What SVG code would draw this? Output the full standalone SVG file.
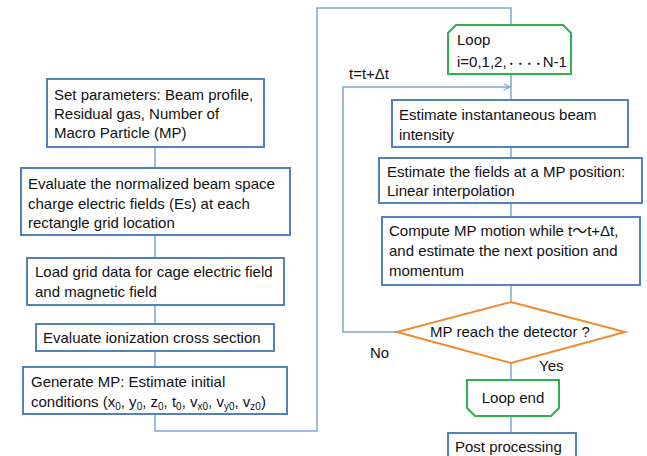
<svg xmlns="http://www.w3.org/2000/svg" width="647" height="456" viewBox="0 0 647 456">
<defs>
<style>
.box{fill:#fff;stroke:#4F81BD;stroke-width:2}
.grn{fill:#fff;stroke:#2DB24F;stroke-width:2}
.dia{fill:#fff;stroke:#F28A2E;stroke-width:2}
.ln{fill:none;stroke:#7EA6D8;stroke-width:1.5}
text{font-family:"Liberation Sans",Arial,sans-serif;font-size:15px;fill:#111}
.sub{font-size:10px}
.cjk{font-family:"Noto Sans CJK JP","Liberation Sans",sans-serif}
</style>
<marker id="arr" viewBox="0 0 10 10" refX="9" refY="5" markerWidth="8" markerHeight="8" markerUnits="userSpaceOnUse" orient="auto">
<path d="M1,1 L9,5 L1,9" fill="none" stroke="#7EA6D8" stroke-width="1.5"/>
</marker>
</defs>
<rect width="647" height="456" fill="#fff"/>
<g id="connectors">
<line class="ln" x1="155" y1="147" x2="155" y2="168"/>
<line class="ln" x1="155" y1="235" x2="155" y2="258"/>
<line class="ln" x1="155" y1="305" x2="155" y2="324"/>
<line class="ln" x1="155" y1="351" x2="155" y2="367"/>
<polyline class="ln" points="155,414 155,431 317,431 317,8 511,8 511,25"/>
<line class="ln" x1="511" y1="74" x2="511" y2="100"/>
<polyline class="ln" points="397,332 343,332 343,87 510,87" marker-end="url(#arr)"/>
<line class="ln" x1="511" y1="147" x2="511" y2="158"/>
<line class="ln" x1="511" y1="203" x2="511" y2="217"/>
<line class="ln" x1="511" y1="285" x2="511" y2="302"/>
<line class="ln" x1="511" y1="363" x2="511" y2="380"/>
<line class="ln" x1="511" y1="416" x2="511" y2="433"/>
</g>
<g id="n1">
<rect class="box" x="47" y="79" width="217" height="68"/>
<text x="54" y="100">Set parameters: Beam profile,</text>
<text x="54" y="119">Residual gas, Number of</text>
<text x="54" y="138">Macro Particle (MP)</text>
</g>
<g id="n2">
<rect class="box" x="21" y="168" width="269" height="67"/>
<text x="28" y="189">Evaluate the normalized beam space</text>
<text x="28" y="209">charge electric fields (Es) at each</text>
<text x="28" y="228">rectangle grid location</text>
</g>
<g id="n3">
<rect class="box" x="27" y="258" width="257" height="47"/>
<text x="35" y="277">Load grid data for cage electric field</text>
<text x="35" y="297">and magnetic field</text>
</g>
<g id="n4">
<rect class="box" x="36" y="324" width="238" height="27"/>
<text x="43" y="343">Evaluate ionization cross section</text>
</g>
<g id="n5">
<rect class="box" x="23" y="367" width="264" height="47"/>
<text x="31" y="387">Generate MP: Estimate initial</text>
<text x="31" y="407">conditions (x<tspan class="sub" dy="3">0</tspan><tspan dy="-3">, y</tspan><tspan class="sub" dy="3">0</tspan><tspan dy="-3">, z</tspan><tspan class="sub" dy="3">0</tspan><tspan dy="-3">, t</tspan><tspan class="sub" dy="3">0</tspan><tspan dy="-3">, v</tspan><tspan class="sub" dy="3">x0</tspan><tspan dy="-3">, v</tspan><tspan class="sub" dy="3">y0</tspan><tspan dy="-3">, v</tspan><tspan class="sub" dy="3">z0</tspan><tspan dy="-3">)</tspan></text>
</g>
<g id="loop">
<path class="grn" d="M456,25 L563,25 L571,33 L571,74 L448,74 L448,33 Z"/>
<text x="457" y="45">Loop</text>
<text x="457" y="67">i=0,1,2,<tspan class="cjk" font-size="9" font-weight="bold">・・・・</tspan>N-1</text>
</g>
<text x="349" y="79">t=t+Δt</text>
<g id="n6">
<rect class="box" x="392" y="100" width="236" height="47"/>
<text x="399" y="120">Estimate instantaneous beam</text>
<text x="399" y="140">intensity</text>
</g>
<g id="n7">
<rect class="box" x="379" y="158" width="263" height="45"/>
<text x="387" y="177">Estimate the fields at a MP position:</text>
<text x="387" y="196">Linear interpolation</text>
</g>
<g id="n8">
<rect class="box" x="382" y="217" width="258" height="68"/>
<text x="389" y="236">Compute MP motion while t<tspan class="cjk">～</tspan>t+Δt,</text>
<text x="389" y="256">and estimate the next position and</text>
<text x="389" y="276">momentum</text>
</g>
<g id="d1">
<polygon class="dia" points="511,302 625,332 511,363 397,332"/>
<text x="510" y="337" text-anchor="middle">MP reach the detector ?</text>
</g>
<text x="370" y="358">No</text>
<text x="539" y="371">Yes</text>
<g id="loopend">
<path class="grn" d="M467,380 L559,380 L559,408 L551,416 L475,416 L467,408 Z"/>
<text x="513" y="403" text-anchor="middle">Loop end</text>
</g>
<g id="post">
<rect class="box" x="448" y="433" width="128" height="30"/>
<text x="455" y="452">Post processing</text>
</g>
</svg>
